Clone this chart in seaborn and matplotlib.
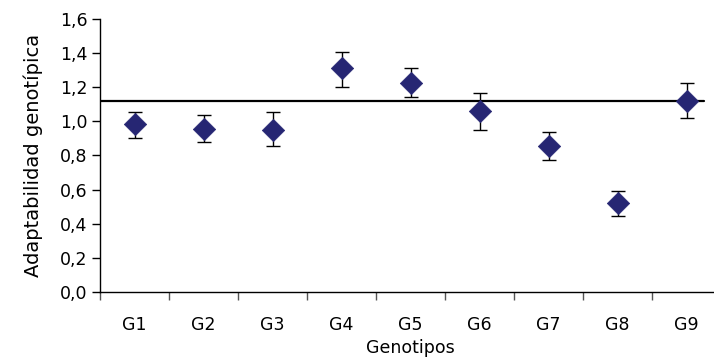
import matplotlib
matplotlib.use("Agg")
import matplotlib.pyplot as plt
from matplotlib.ticker import FuncFormatter, FixedLocator
import seaborn as sns
import pandas as pd

genotipos = ["G1", "G2", "G3", "G4", "G5", "G6", "G7", "G8", "G9"]
adaptabilidad = [0.983, 0.957, 0.948, 1.313, 1.221, 1.061, 0.856, 0.523, 1.120]
err_sup = [1.051, 1.039, 1.051, 1.403, 1.313, 1.165, 0.934, 0.592, 1.223]
err_inf = [0.903, 0.877, 0.856, 1.200, 1.141, 0.948, 0.774, 0.444, 1.016]
referencia = 1.12

df = pd.DataFrame({"Genotipo": genotipos, "Adapt": adaptabilidad})

sns.set_style("white")
plt.rcParams["font.family"] = ["DejaVu Sans"]
plt.rcParams["text.color"] = "black"
plt.rcParams["xtick.color"] = "black"
plt.rcParams["ytick.color"] = "black"
plt.rcParams["axes.labelcolor"] = "black"

fig = plt.figure(figsize=(7.14, 3.62), dpi=100)
ax = fig.add_axes([100 / 714, (362 - 292) / 362, 621 / 714, 273.3 / 362])

xs = list(range(len(genotipos)))
lower = [a - b for a, b in zip(adaptabilidad, err_inf)]
upper = [b - a for a, b in zip(adaptabilidad, err_sup)]
ax.errorbar(xs, adaptabilidad, yerr=[lower, upper], fmt="none", ecolor="black",
            elinewidth=1.0, capsize=5, capthick=1.0, zorder=2)
ax.axhline(referencia, xmin=0, xmax=(704 - 100) / 621, color="black", lw=1.6, zorder=3)
sns.scatterplot(data=df, x="Genotipo", y="Adapt", marker="D", s=130,
                color="#262673", edgecolor="#262673", linewidth=0.5, ax=ax, zorder=4)

fs = 12.5
ax.set_xlim(-0.5, 8.5)
ax.set_ylim(0, 1.6)
ax.set_yticks([0, 0.2, 0.4, 0.6, 0.8, 1.0, 1.2, 1.4, 1.6])
ax.yaxis.set_major_formatter(FuncFormatter(lambda v, p: f"{v:.1f}".replace(".", ",")))
ax.set_xticks(xs)
ax.set_xticklabels(genotipos)
ax.xaxis.set_minor_locator(FixedLocator([i + 0.5 for i in range(-1, 9)]))
ax.tick_params(axis="x", which="major", length=0, pad=17, labelsize=fs)
ax.tick_params(axis="x", which="minor", length=6, width=1, color="#555555", direction="out", bottom=True)
ax.tick_params(axis="y", which="major", length=6, width=1, color="black", direction="out",
               left=True, labelsize=fs, pad=3)

for s in ["top", "right"]:
    ax.spines[s].set_visible(False)
for s in ["left", "bottom"]:
    ax.spines[s].set_color("black")
    ax.spines[s].set_linewidth(1.0)

ax.set_xlabel("Genotipos", fontsize=fs, labelpad=4)
ax.set_ylabel("Adaptabilidad genotípica", fontsize=14, labelpad=12)

fig.savefig("out.png", dpi=100)
